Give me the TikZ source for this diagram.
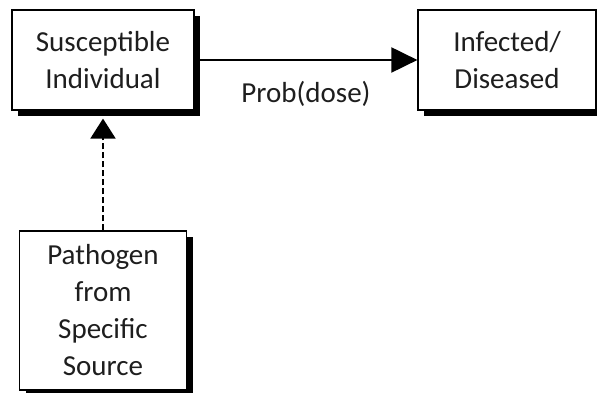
\documentclass[tikz,border=0pt]{standalone}
\usepackage{fontspec}
\setmainfont{Carlito}
\usetikzlibrary{arrows.meta,shadows}

\definecolor{ink}{RGB}{30,30,30}

\begin{document}
\begin{tikzpicture}[x=1pt, y=1pt,
  box/.style={draw, line width=1.2pt, fill=white, align=center, inner sep=0pt,
    text=ink, font=\fontsize{29}{37}\selectfont,
    drop shadow={shadow xshift=6pt, shadow yshift=-6pt, fill=black, opacity=1}},
  link/.style={line width=2pt, -{Triangle[length=26pt, width=25pt]}}]
  \useasboundingbox (0,0) rectangle (597,393);

  \node[box, minimum width=182pt, minimum height=100pt] (susc) at (103,333) {Susceptible\\Individual};
  \node[box, minimum width=178pt, minimum height=100pt] (inf) at (507,333) {Infected/\\Diseased};
  \node[box, minimum width=167pt, minimum height=159pt] (path) at (103,82.5) {Pathogen\\from\\Specific\\Source};

  \draw[link] (susc) -- (inf)
    node[midway, below=20pt, inner sep=0pt, text=ink, font=\fontsize{29}{37}\selectfont] (dose) {Prob(dose)};
  \draw[link, dash pattern=on 6pt off 3pt, shorten >=8pt,
    -{Triangle[length=20pt, width=25pt]}] (path) -- (susc);
\end{tikzpicture}
\end{document}
